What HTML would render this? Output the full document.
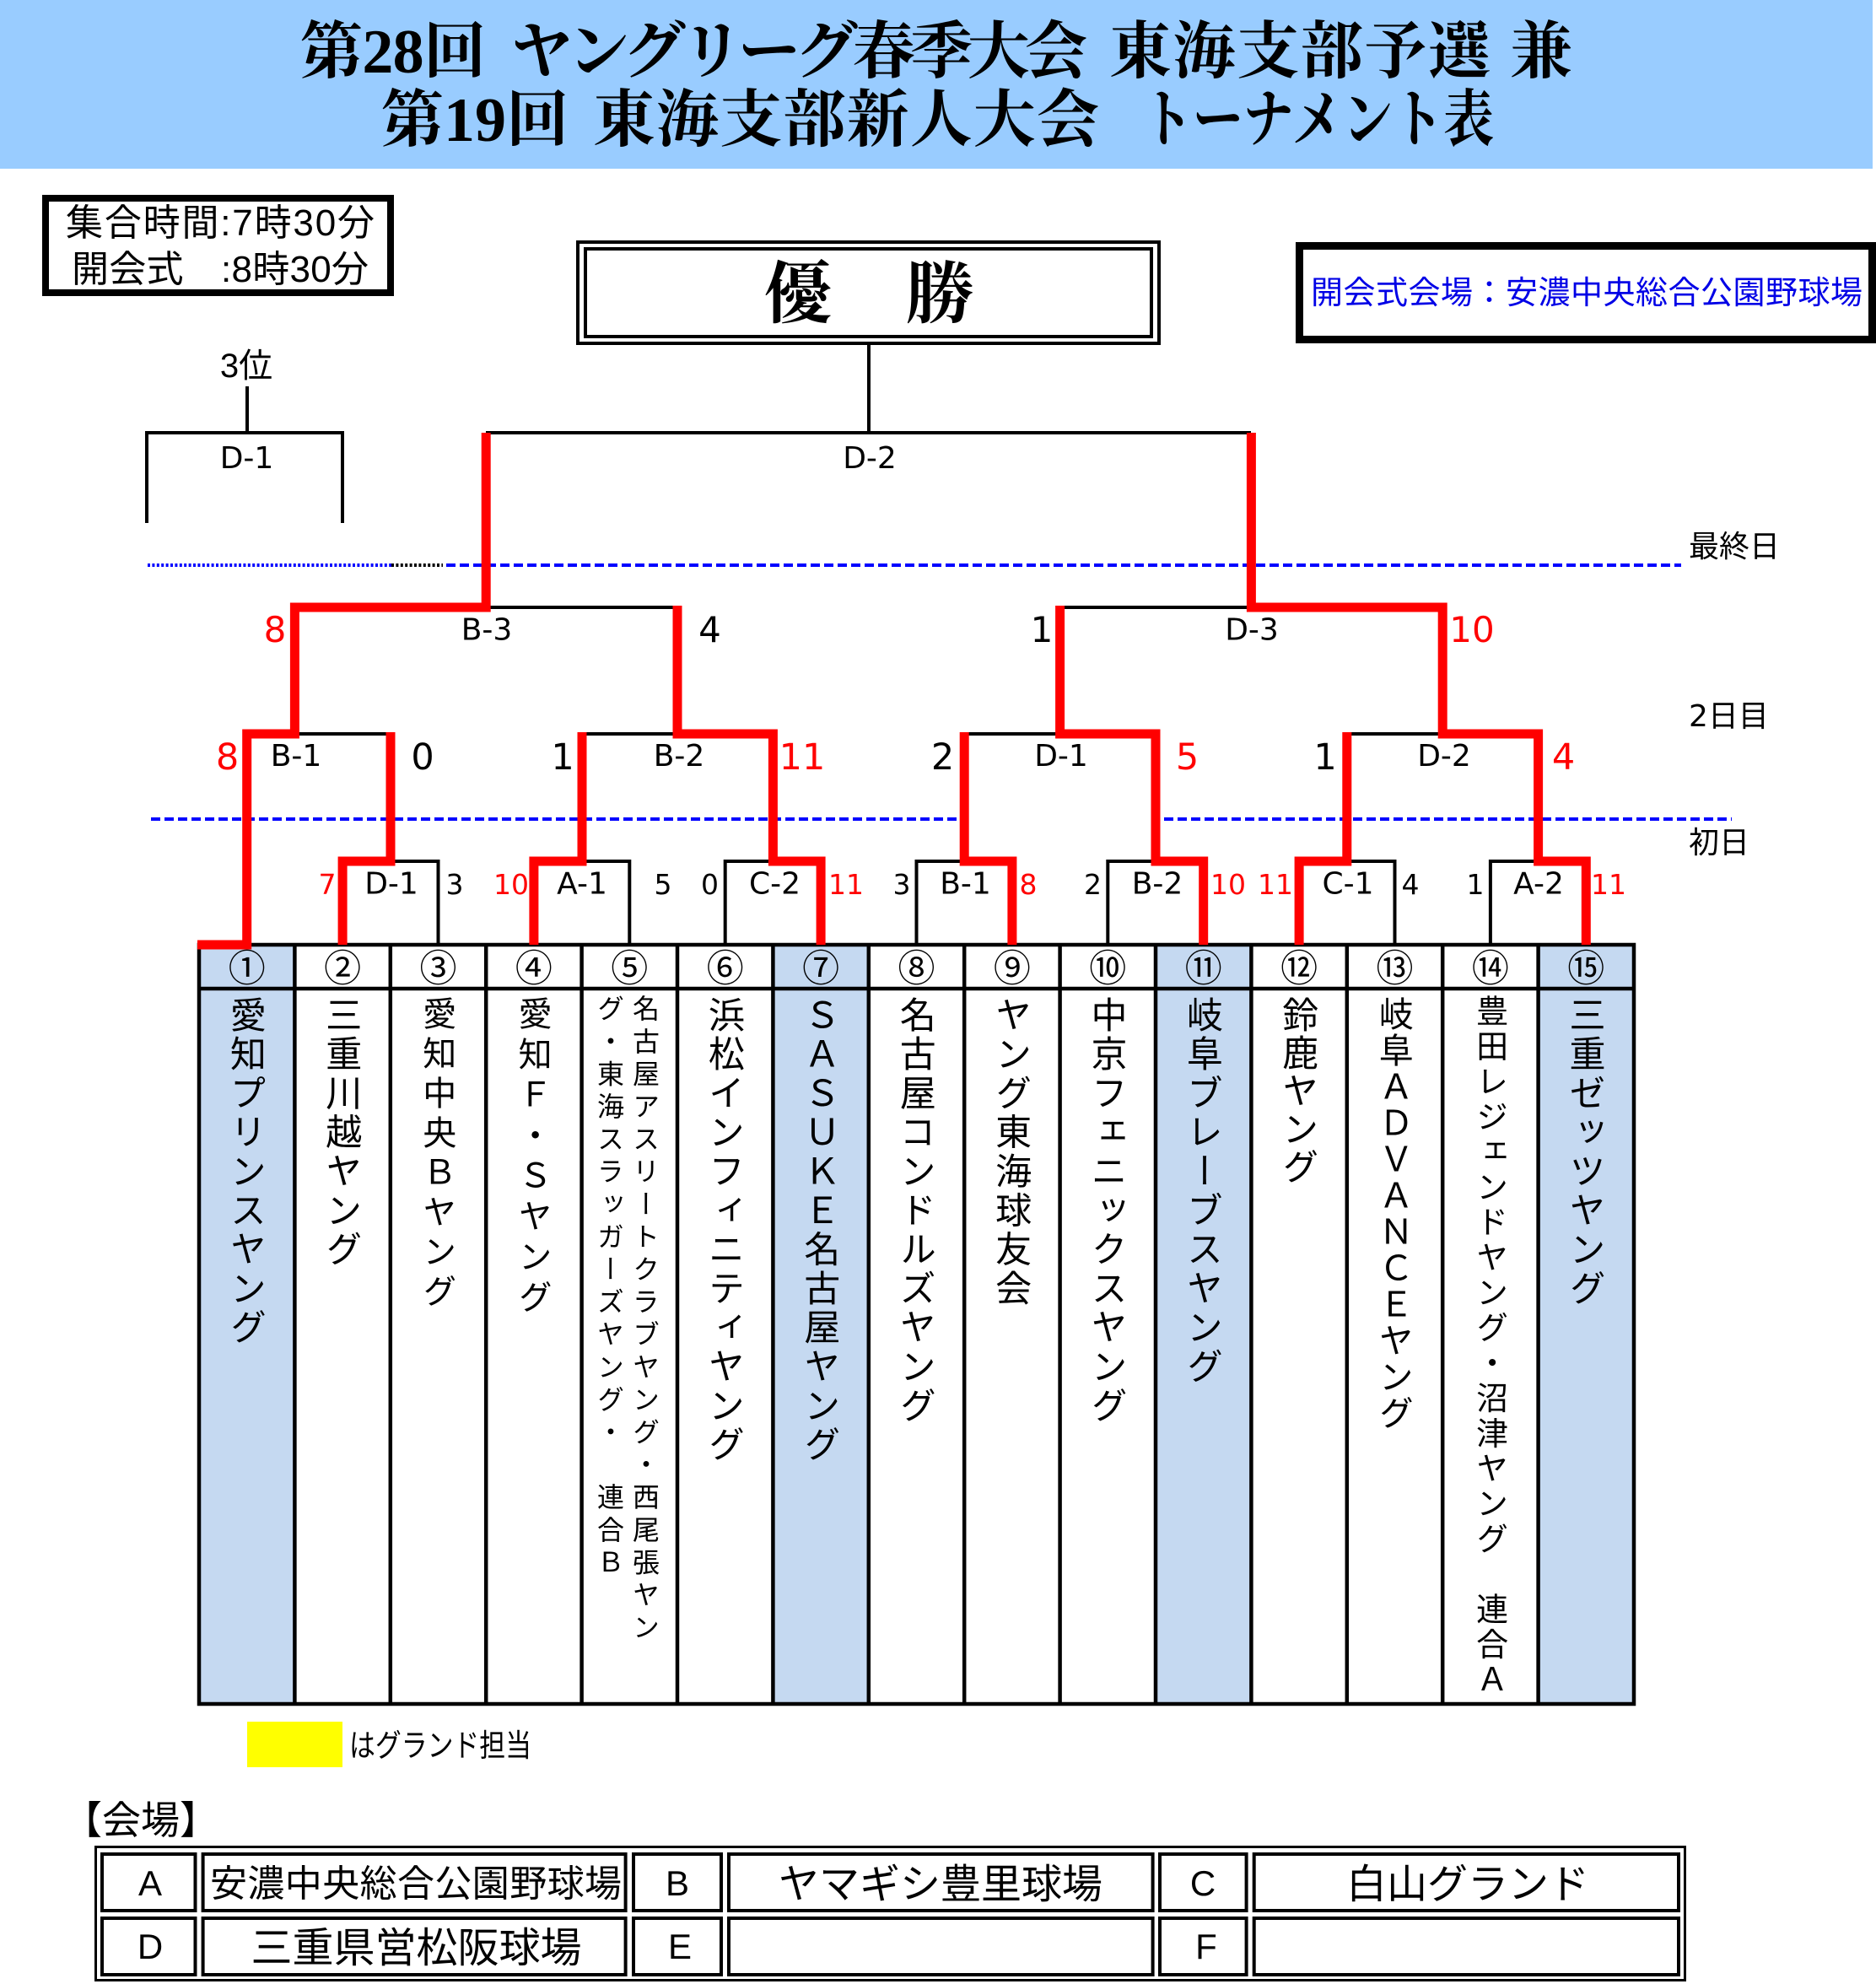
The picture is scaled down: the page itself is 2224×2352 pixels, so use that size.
<!DOCTYPE html>
<html lang="ja">
<head>
<meta charset="utf-8">
<style>
html,body{margin:0;padding:0;background:#fff;}
body{width:2224px;height:2352px;position:relative;overflow:hidden;}
svg{position:absolute;left:0;top:0;}
.tn{position:absolute;top:1181px;writing-mode:vertical-rl;font-family:"Liberation Sans","Noto Sans CJK JP",sans-serif;white-space:nowrap;color:#000;width:113.4px;line-height:113.4px;font-size:43px;letter-spacing:3.3px;margin-left:-3px;}
</style>
</head>
<body>
<svg width="2224" height="2352" viewBox="0 0 2224 2352" xmlns="http://www.w3.org/2000/svg">
  <!-- header -->
  <rect x="0" y="0" width="2220" height="200" fill="#99ccff"/>
  <g font-family="'Liberation Serif','Noto Serif CJK SC',serif" font-weight="bold" fill="#000" font-size="74">
    <text x="356" y="86" textLength="220">第28回</text>
    <text x="605" y="86" textLength="684">ヤングリーグ春季大会</text>
    <text x="1315" y="86" textLength="452">東海支部予選</text>
    <text x="1790" y="86">兼</text>
    <text x="452" y="167" textLength="222">第19回</text>
    <text x="703" y="167" textLength="600">東海支部新人大会</text>
    <text x="1354" y="167" textLength="417" lengthAdjust="spacingAndGlyphs">トーナメント表</text>
  </g>

  <!-- time box -->
  <rect x="54" y="235" width="409" height="112" fill="#fff" stroke="#000" stroke-width="8"/>
  <g font-family="'Liberation Sans','Noto Sans CJK JP',sans-serif" font-size="44" fill="#000">
    <text x="78" y="279" textLength="366">集合時間:7時30分</text>
    <text x="85" y="334" textLength="352">開会式　:8時30分</text>
  </g>

  <!-- 優勝 box -->
  <rect x="685" y="287" width="689" height="120" fill="#fff" stroke="#000" stroke-width="4"/>
  <rect x="694" y="295" width="671" height="104" fill="none" stroke="#000" stroke-width="4"/>
  <text x="906" y="376" font-size="80" textLength="248" font-family="'Liberation Serif','Noto Serif CJK SC',serif" font-weight="bold">優　勝</text>

  <!-- opening venue box -->
  <rect x="1540.5" y="291.5" width="679" height="111" fill="#fff" stroke="#000" stroke-width="9"/>
  <text x="1554" y="360" font-size="38" textLength="654" fill="#0000e6" font-family="'Liberation Sans','Noto Sans CJK JP',sans-serif">開会式会場：安濃中央総合公園野球場</text>

  <!-- 3位 -->
  <text x="292" y="447" font-size="40" text-anchor="middle" font-family="'Liberation Sans','Noto Sans CJK JP',sans-serif">3位</text>

  <!-- table fills -->
  <g fill="#c5d9f1">
    <rect x="236" y="1120" width="113.4" height="900"/>
    <rect x="916.4" y="1120" width="113.4" height="900"/>
    <rect x="1370" y="1120" width="113.4" height="900"/>
    <rect x="1823.6" y="1120" width="113.4" height="900"/>
  </g>
  <!-- table lines -->
  <g stroke="#000" stroke-width="4.5" fill="none">
    <rect x="236" y="1120" width="1701" height="900"/>
    <line x1="236" y1="1172" x2="1937" y2="1172"/>
    <line x1="349.4" y1="1120" x2="349.4" y2="2020"/>
    <line x1="462.8" y1="1120" x2="462.8" y2="2020"/>
    <line x1="576.2" y1="1120" x2="576.2" y2="2020"/>
    <line x1="689.6" y1="1120" x2="689.6" y2="2020"/>
    <line x1="803" y1="1120" x2="803" y2="2020"/>
    <line x1="916.4" y1="1120" x2="916.4" y2="2020"/>
    <line x1="1029.8" y1="1120" x2="1029.8" y2="2020"/>
    <line x1="1143.2" y1="1120" x2="1143.2" y2="2020"/>
    <line x1="1256.6" y1="1120" x2="1256.6" y2="2020"/>
    <line x1="1370" y1="1120" x2="1370" y2="2020"/>
    <line x1="1483.4" y1="1120" x2="1483.4" y2="2020"/>
    <line x1="1596.8" y1="1120" x2="1596.8" y2="2020"/>
    <line x1="1710.2" y1="1120" x2="1710.2" y2="2020"/>
    <line x1="1823.6" y1="1120" x2="1823.6" y2="2020"/>
  </g>

  <!-- circled numbers -->
  <g font-family="'Noto Sans CJK JP',sans-serif" font-size="44" text-anchor="middle" fill="#000">
    <text x="292.7" y="1163">①</text>
    <text x="406.1" y="1163">②</text>
    <text x="519.5" y="1163">③</text>
    <text x="632.9" y="1163">④</text>
    <text x="746.3" y="1163">⑤</text>
    <text x="859.7" y="1163">⑥</text>
    <text x="973.1" y="1163">⑦</text>
    <text x="1086.5" y="1163">⑧</text>
    <text x="1199.9" y="1163">⑨</text>
    <text x="1313.3" y="1163">⑩</text>
    <text x="1426.7" y="1163">⑪</text>
    <text x="1540.1" y="1163">⑫</text>
    <text x="1653.5" y="1163">⑬</text>
    <text x="1766.9" y="1163">⑭</text>
    <text x="1880.3" y="1163">⑮</text>
  </g>

  <!-- day lines -->
  <g stroke-width="4" fill="none">
    <path d="M175 670 H464" stroke="#0000ff" stroke-dasharray="3 2.4"/>
    <path d="M464 670 H525" stroke="#000" stroke-dasharray="3 2.4"/>
    <path d="M529 670 H1993" stroke="#0000ff" stroke-dasharray="11 5"/>
    <path d="M179 971 H1138" stroke="#0000ff" stroke-dasharray="11 5"/>
    <path d="M1380 971 H2053" stroke="#0000ff" stroke-dasharray="11 5"/>
  </g>
  <g font-family="'Liberation Sans','Noto Sans CJK JP',sans-serif" font-size="36" fill="#000">
    <text x="2002" y="660">最終日</text>
    <text x="2002" y="861" font-family="'DejaVu Sans','Noto Sans CJK JP',sans-serif">2日目</text>
    <text x="2002" y="1011">初日</text>
  </g>

  <!-- black bracket lines -->
  <g stroke="#000" stroke-width="4" fill="none" stroke-linejoin="miter">
    <path d="M293 458 V513"/>
    <path d="M174 620 V513 H406 V620"/>
    <path d="M1030 408 V513"/>
    <path d="M576 513 H1483"/>
    <path d="M576 720 H803"/>
    <path d="M1257 720 H1483"/>
    <path d="M349 870 H463"/>
    <path d="M690 870 H803"/>
    <path d="M1143 870 H1257"/>
    <path d="M1597 870 H1710"/>
    <path d="M463 1021 H519.5 V1120"/>
    <path d="M690 1021 H746.3 V1120"/>
    <path d="M859.7 1120 V1021 H916"/>
    <path d="M1086.5 1120 V1021 H1143"/>
    <path d="M1313.3 1120 V1021 H1370"/>
    <path d="M1597 1021 H1653.5 V1120"/>
    <path d="M1766.9 1120 V1021 H1823"/>
  </g>

  <!-- red winner lines -->
  <g stroke="#ff0000" stroke-width="11" fill="none" stroke-linejoin="miter" stroke-linecap="butt">
    <path d="M234 1120 H292.7 V870 H349.4 V720 H576.2 V513"/>
    <path d="M406.1 1120 V1021 H463 V868"/>
    <path d="M632.9 1120 V1021 H690 V868"/>
    <path d="M973.1 1120 V1021 H916.4 V870 H803 V718"/>
    <path d="M1199.9 1120 V1021 H1143.2 V868"/>
    <path d="M1426.7 1120 V1021 H1370 V870 H1256.6 V718"/>
    <path d="M1540.1 1120 V1021 H1596.8 V868"/>
    <path d="M1880.3 1120 V1021 H1823.6 V870 H1710.2 V720 H1483.4 V513"/>
  </g>

  <!-- match labels -->
  <g font-family="'DejaVu Sans','Liberation Sans',sans-serif" font-size="36" text-anchor="middle" fill="#000">
    <text x="292.5" y="555">D-1</text>
    <text x="1031" y="555">D-2</text>
    <text x="577" y="758.5">B-3</text>
    <text x="1484" y="758.5">D-3</text>
    <text x="351" y="908">B-1</text>
    <text x="805" y="908">B-2</text>
    <text x="1258" y="908">D-1</text>
    <text x="1712" y="908">D-2</text>
    <text x="464" y="1059.5">D-1</text>
    <text x="690" y="1059.5">A-1</text>
    <text x="918.5" y="1059.5">C-2</text>
    <text x="1144.5" y="1059.5">B-1</text>
    <text x="1372" y="1059.5">B-2</text>
    <text x="1598" y="1059.5">C-1</text>
    <text x="1824" y="1059.5">A-2</text>
  </g>

  <!-- scores semis -->
  <g font-family="'DejaVu Sans','Liberation Sans',sans-serif" font-size="42" text-anchor="middle">
    <text x="326" y="761" fill="#ff0000">8</text>
    <text x="841.5" y="761" fill="#000">4</text>
    <text x="1235" y="761" fill="#000">1</text>
    <text x="1745" y="761" fill="#ff0000">10</text>
  </g>
  <!-- scores round 2 -->
  <g font-family="'DejaVu Sans','Liberation Sans',sans-serif" font-size="43" text-anchor="middle">
    <text x="269.5" y="912" fill="#ff0000">8</text>
    <text x="501" y="912" fill="#000">0</text>
    <text x="667" y="912" fill="#000">1</text>
    <text x="951" y="912" fill="#ff0000">11</text>
    <text x="1117.5" y="912" fill="#000">2</text>
    <text x="1407.5" y="912" fill="#ff0000">5</text>
    <text x="1571" y="912" fill="#000">1</text>
    <text x="1853.5" y="912" fill="#ff0000">4</text>
  </g>
  <!-- scores round 1 -->
  <g font-family="'DejaVu Sans','Liberation Sans',sans-serif" font-size="33" text-anchor="middle">
    <text x="388" y="1060" fill="#ff0000">7</text>
    <text x="539" y="1060" fill="#000">3</text>
    <text x="606" y="1060" fill="#ff0000">10</text>
    <text x="786" y="1060" fill="#000">5</text>
    <text x="841.5" y="1060" fill="#000">0</text>
    <text x="1003" y="1060" fill="#ff0000">11</text>
    <text x="1069" y="1060" fill="#000">3</text>
    <text x="1219" y="1060" fill="#ff0000">8</text>
    <text x="1295.5" y="1060" fill="#000">2</text>
    <text x="1456" y="1060" fill="#ff0000">10</text>
    <text x="1512" y="1060" fill="#ff0000">11</text>
    <text x="1672" y="1060" fill="#000">4</text>
    <text x="1749" y="1060" fill="#000">1</text>
    <text x="1907" y="1060" fill="#ff0000">11</text>
  </g>

  <!-- legend -->
  <rect x="293" y="2041" width="113" height="54" fill="#ffff00"/>
  <text x="414" y="2082" font-size="37" textLength="216" lengthAdjust="spacingAndGlyphs" font-family="'Liberation Sans','Noto Sans CJK JP',sans-serif">はグランド担当</text>
  <text x="75" y="2174" font-size="46" font-family="'Liberation Sans','Noto Sans CJK JP',sans-serif">【会場】</text>

  <!-- venue table -->
  <rect x="113.5" y="2189.5" width="1884" height="158" fill="none" stroke="#000" stroke-width="3"/>
  <g fill="none" stroke="#000" stroke-width="4">
    <rect x="121" y="2198" width="110.5" height="67"/>
    <rect x="240.6" y="2198" width="501" height="67"/>
    <rect x="751" y="2198" width="104" height="67"/>
    <rect x="864" y="2198" width="502.6" height="67"/>
    <rect x="1375" y="2198" width="102.6" height="67"/>
    <rect x="1486.7" y="2198" width="503.3" height="67"/>
    <rect x="121" y="2274" width="110.5" height="67"/>
    <rect x="240.6" y="2274" width="501" height="67"/>
    <rect x="751" y="2274" width="104" height="67"/>
    <rect x="864" y="2274" width="502.6" height="67"/>
    <rect x="1375" y="2274" width="102.6" height="67"/>
    <rect x="1486.7" y="2274" width="503.3" height="67"/>
  </g>
  <g font-family="'Liberation Sans','Noto Sans CJK JP',sans-serif" fill="#000">
    <text x="178" y="2247" font-size="42" text-anchor="middle">A</text>
    <text x="249" y="2248" font-size="44" textLength="488">安濃中央総合公園野球場</text>
    <text x="803" y="2247" font-size="42" text-anchor="middle">B</text>
    <text x="1115" y="2250" font-size="48" text-anchor="middle">ヤマギシ豊里球場</text>
    <text x="1426" y="2247" font-size="42" text-anchor="middle">C</text>
    <text x="1740" y="2250" font-size="48" text-anchor="middle">白山グランド</text>
    <text x="178" y="2322" font-size="42" text-anchor="middle">D</text>
    <text x="493.5" y="2326" font-size="49" text-anchor="middle">三重県営松阪球場</text>
    <text x="806" y="2322" font-size="42" text-anchor="middle">E</text>
    <text x="1430" y="2322" font-size="42" text-anchor="middle">F</text>
  </g>
</svg>

<!-- team names (vertical) -->
<div class="tn" style="left:236px;">愛知プリンスヤング</div>
<div class="tn" style="left:349.4px;">三重川越ヤング</div>
<div class="tn" style="left:462.8px;font-size:40px;letter-spacing:7px;">愛知中央Ｂヤング</div>
<div class="tn" style="left:576.2px;font-size:40px;letter-spacing:8px;">愛知Ｆ・Ｓヤング</div>
<div class="tn" style="left:704px;width:84px;line-height:42px;font-size:32px;letter-spacing:6.6px;top:1179px;">名古屋アスリートクラブヤング・西尾張ヤン<br>グ・東海スラッガーズヤング・　連合Ｂ</div>
<div class="tn" style="left:803px;">浜松インフィニティヤング</div>
<div class="tn" style="left:916.4px;">ＳＡＳＵＫＥ名古屋ヤング</div>
<div class="tn" style="left:1029.8px;">名古屋コンドルズヤング</div>
<div class="tn" style="left:1143.2px;">ヤング東海球友会</div>
<div class="tn" style="left:1256.6px;">中京フェニックスヤング</div>
<div class="tn" style="left:1370px;">岐阜ブレーブスヤング</div>
<div class="tn" style="left:1483.4px;letter-spacing:2px;">鈴鹿ヤング</div>
<div class="tn" style="left:1596.8px;font-size:41px;letter-spacing:2px;">岐阜ＡＤＶＡＮＣＥヤング</div>
<div class="tn" style="left:1710.2px;font-size:38px;letter-spacing:3.7px;top:1179px;">豊田レジェンドヤング・沼津ヤング　連合Ａ</div>
<div class="tn" style="left:1823.6px;">三重ゼッツヤング</div>
</body>
</html>
